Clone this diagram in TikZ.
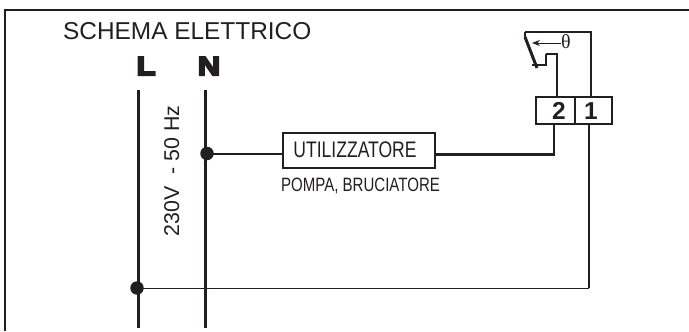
\documentclass[tikz,border=0pt]{standalone}
\usepackage{fontspec}
\setmainfont{Liberation Sans}
\newfontfamily\narrowf[FakeStretch=0.78]{Liberation Sans}
\newfontfamily\heavyf[FakeBold=8,FakeStretch=1.2]{Liberation Sans Bold}
\newfontfamily\thetaf{Liberation Serif}
\usetikzlibrary{arrows.meta}
\definecolor{ink}{HTML}{231F20}
\tikzset{
  wire/.style={draw=ink,line width=2.3pt,line cap=butt,line join=miter},
  thinwire/.style={draw=ink,line width=1pt},
  rail/.style={draw=ink,line width=2.9pt},
  junction/.style={circle,fill=ink,inner sep=0pt,minimum size=13.5pt},
  txt/.style={inner sep=0pt,text=ink},
  term/.style={draw=ink,line width=1.7pt,inner sep=0pt,minimum height=27pt}
}
\begin{document}
\begin{tikzpicture}[x=1bp,y=-1bp]
\useasboundingbox (0,0) rectangle (689,331);
% frame
\coordinate (fbl) at (5,331);
\coordinate (ftl) at (5,10);
\coordinate (ftr) at (689,10);
\draw[draw=ink,line width=2.2pt] (fbl) -- (ftl) -- (ftr);
% titles
\node[txt,anchor=base west] (title) at (63,39) {\fontsize{24.4bp}{26bp}\selectfont SCHEMA ELETTRICO};
\node[txt,anchor=base] (L) at (146,75) {\heavyf\fontsize{26bp}{28bp}\selectfont L};
\node[txt,anchor=base] (N) at (209,75) {\heavyf\fontsize{26bp}{28bp}\selectfont N};
\node[txt,rotate=90,anchor=base] (volt) at (179,171) {\fontsize{21.4bp}{24bp}\selectfont 230V\ \ - 50 Hz};
% rails
\coordinate (Lt) at (138.5,90);
\coordinate (Lb) at (138.5,328);
\coordinate (Nt) at (205.5,90);
\coordinate (Nb) at (205.5,328);
\draw[rail] (Lt) -- (Lb);
\draw[rail] (Nt) -- (Nb);
\node[junction] (jN) at (207,153.5) {};
\node[junction] (jL) at (137,288) {};
% load
\node[draw=ink,line width=1.9pt,minimum width=153pt,minimum height=35pt,inner sep=0pt] (load) at (359,150.5) {};
\node[txt,anchor=base] (loadt) at (355,157.5) {\narrowf\fontsize{22.5bp}{24bp}\selectfont UTILIZZATORE};
\node[txt,anchor=base] (loads) at (360.5,191) {\narrowf\fontsize{19.3bp}{21bp}\selectfont POMPA, BRUCIATORE};
% terminals
\node[term,minimum width=39pt] (t2) at (555.5,110.5) {};
\node[term,minimum width=37pt] (t1) at (593.5,110.5) {};
\node[txt,anchor=base] (n2) at (559,119.5) {\bfseries\fontsize{24.5bp}{26bp}\selectfont 2};
\node[txt,anchor=base] (n1) at (591,119.5) {\bfseries\fontsize{24.5bp}{26bp}\selectfont 1};
% wires
\coordinate (c0) at (207,154);
\draw[wire] (jN.center |- c0) -- (load.west |- c0);
\coordinate (c1) at (554,154.5);
\draw[wire] (load.east |- c1) -- (c1) -- (c1 |- t2.south);
\coordinate (c2) at (589,288.5);
\draw[thinwire] (jL.center |- c2) -- (c2);
\draw[wire] (c2 |- t1.south) -- ([yshift=.5pt]c2);
% thermostat
\coordinate (s1) at (525,32);
\coordinate (s2) at (591,32);
\draw[draw=ink,line width=1.8pt] (s1) -- (s2) -- (s2 |- t1.north);
\coordinate (b1) at (525,37);
\coordinate (b2) at (537,68);
\draw[draw=ink,line width=1.8pt] (s1) -- (b1);
\draw[draw=ink,line width=3pt] (b1) -- (b2);
\coordinate (k1) at (531.5,65);
\coordinate (k2) at (546,65);
\coordinate (k3) at (546,54);
\coordinate (k4) at (557,54);
\draw[draw=ink,line width=2.3pt] (k1) -- (k2) -- (k3);
\draw[draw=ink,line width=1.8pt] (k3) -- (k4) -- (k4 |- t2.north);
\node[txt,anchor=base] (th) at (566,48.5) {\thetaf\fontsize{20bp}{22bp}\selectfont θ};
\coordinate (a1) at (532,43);
\draw[draw=ink,line width=1pt,-{Stealth[length=8pt,width=6pt]}] (th.west |- a1) -- (a1);
\end{tikzpicture}
\end{document}
